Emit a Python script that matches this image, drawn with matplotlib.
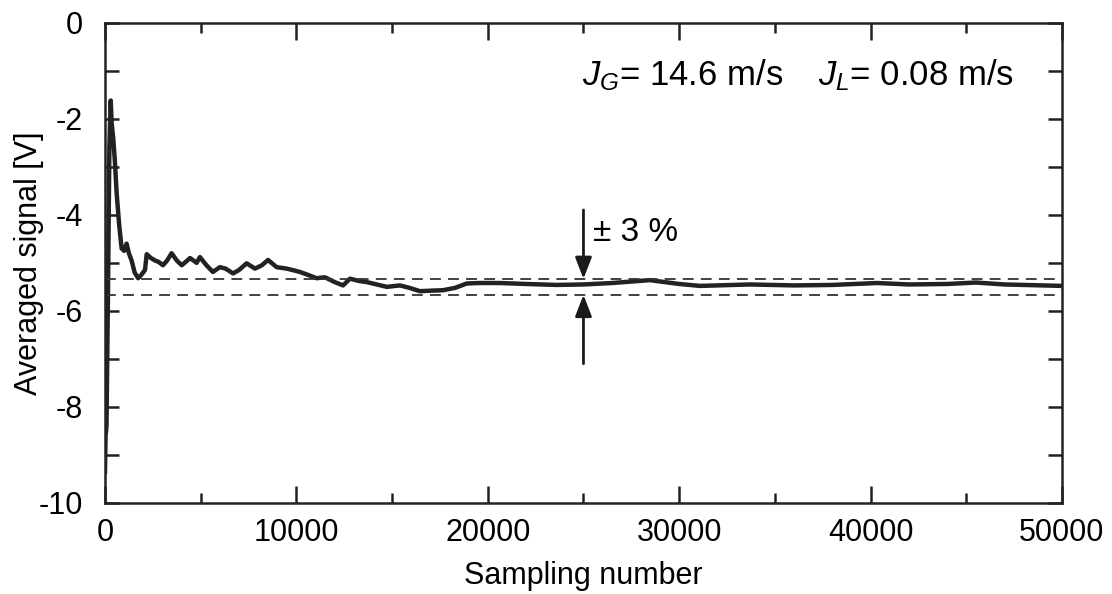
import numpy as np
import matplotlib
matplotlib.use("Agg")
import matplotlib.pyplot as plt
from matplotlib.ticker import MultipleLocator

plt.rcParams['font.family'] = ['Liberation Sans', 'DejaVu Sans']
plt.rcParams['mathtext.fontset'] = 'custom'
plt.rcParams['mathtext.rm'] = 'Liberation Sans'
plt.rcParams['mathtext.it'] = 'Liberation Sans:italic'
plt.rcParams['axes.unicode_minus'] = False

# averaged signal
samples = [0, 30, 80, 160, 230, 300, 350, 430, 520, 610, 740, 870, 1000, 1130,
           1250, 1390, 1550, 1730, 1900, 2090, 2180, 2400, 2610, 2800, 3030,
           3250, 3480, 3750, 4010, 4250, 4440, 4620, 4790, 4960, 5300, 5640,
           6000, 6300, 6690, 7000, 7400, 7840, 8200, 8520, 8970, 9500, 10190,
           10600, 11060, 11490, 12000, 12440, 12800, 13300, 13670, 14200,
           14720, 15410, 15900, 16460, 17000, 17660, 18300, 18900, 19500,
           20640, 22000, 23600, 25000, 26500, 28470, 30000, 31090, 33700,
           36000, 38000, 40340, 42000, 44000, 45500, 47000, 50000]
signal = [-9.35, -8.6, -8.4, -5.5, -2.6, -1.62, -2.1, -2.4, -2.9, -3.55, -4.2,
          -4.7, -4.75, -4.6, -4.8, -4.95, -5.2, -5.32, -5.25, -5.15, -4.82,
          -4.9, -4.95, -4.98, -5.05, -4.95, -4.8, -4.95, -5.05, -4.97, -4.9,
          -4.95, -5.0, -4.88, -5.05, -5.19, -5.09, -5.12, -5.22, -5.15, -5.01,
          -5.12, -5.05, -4.94, -5.09, -5.12, -5.19, -5.25, -5.32, -5.3, -5.4,
          -5.47, -5.33, -5.38, -5.4, -5.45, -5.5, -5.47, -5.52, -5.59, -5.58,
          -5.57, -5.52, -5.43, -5.42, -5.42, -5.44, -5.46, -5.45, -5.42, -5.36,
          -5.44, -5.48, -5.45, -5.47, -5.46, -5.42, -5.45, -5.44, -5.41, -5.45,
          -5.48]

mean_level = -5.5
tolerance = 0.03
arrow_x = 25000

fig = plt.figure(figsize=(11.12, 5.94), dpi=100)
ax = fig.add_axes([0.0944, 0.1532, 0.8606, 0.8086])

ax.plot(samples, signal, color='#222222', lw=3.2, solid_joinstyle='round')

upper = mean_level * (1 - tolerance)
lower = mean_level * (1 + tolerance)
for lvl in (upper, lower):
    ax.axhline(lvl, color='#333333', lw=1.3, ls=(0, (6, 4)))

arrow_style = dict(arrowstyle='-|>,head_length=1.3,head_width=0.5',
                   color='#1a1a1a', lw=2, shrinkA=0, shrinkB=0)
ax.annotate('', xy=(arrow_x, upper), xytext=(arrow_x, -3.9),
            arrowprops=arrow_style)
ax.annotate('', xy=(arrow_x, lower), xytext=(arrow_x, -7.1),
            arrowprops=arrow_style)
ax.text(arrow_x + 500, -4.37, '± 3 %', fontsize=24, va='center', ha='left')

ax.text(0.498, 0.870, r'$J_G$= 14.6 m/s', transform=ax.transAxes,
        fontsize=25, ha='left', va='baseline')
ax.text(0.745, 0.870, r'$J_L$= 0.08 m/s', transform=ax.transAxes,
        fontsize=25, ha='left', va='baseline')

ax.set_xlim(0, 50000)
ax.set_ylim(-10, 0)
ax.xaxis.set_major_locator(MultipleLocator(10000))
ax.xaxis.set_minor_locator(MultipleLocator(5000))
ax.yaxis.set_major_locator(MultipleLocator(2))
ax.yaxis.set_minor_locator(MultipleLocator(1))
ax.tick_params(which='both', direction='in', top=True, right=True,
               labelsize=22, width=1.8, color='#222222')
ax.tick_params(axis='x', which='major', length=12, pad=11)
ax.tick_params(axis='x', which='minor', length=7)
ax.tick_params(axis='y', which='both', length=10, pad=16)
for sp in ax.spines.values():
    sp.set_linewidth(1.8)
    sp.set_color('#222222')

ax.set_xlabel('Sampling number', fontsize=22, labelpad=9)
ax.set_ylabel('Averaged signal [V]', fontsize=22)
ax.yaxis.set_label_coords(-0.064, 0.5)

fig.savefig('out.png', dpi=100)
